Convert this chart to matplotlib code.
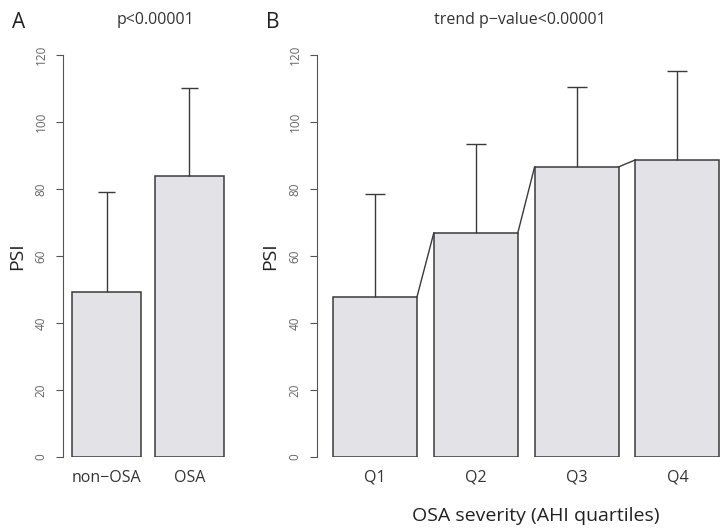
import matplotlib.pyplot as plt
import numpy as np

plt.rcParams['font.family'] = ['Open Sans', 'DejaVu Sans']

# panel A: non-OSA vs OSA
groups_a = ['non\u2212OSA', 'OSA']
mean_a = [49.3, 83.9]
sd_a = [29.8, 26.2]

# panel B: AHI quartiles
groups_b = ['Q1', 'Q2', 'Q3', 'Q4']
mean_b = [47.8, 66.9, 86.6, 88.7]
sd_b = [30.7, 26.5, 23.8, 26.5]

yticks = [0, 20, 40, 60, 80, 100, 120]

W, H = 724, 531
fig = plt.figure(figsize=(W / 100, H / 100), dpi=100)

bar_fc = '#e3e3e7'
edge = '#3a3a3a'
px0, px120 = 457, 55   # pixel rows of y=0 and y=120


def add_axes(left_px, right_px):
    return fig.add_axes([left_px / W, (H - px0) / H,
                         (right_px - left_px) / W, (px0 - px120) / H])


def style(ax):
    ax.set_ylim(0, 120)
    for s in ['top', 'right', 'bottom']:
        ax.spines[s].set_visible(False)
    ax.spines['left'].set_bounds(0, 120)
    ax.spines['left'].set_color('#555555')
    ax.set_yticks(yticks)
    ax.set_yticklabels([str(t) for t in yticks], rotation=90, va='center',
                       fontsize=8.5, color='#666666')
    ax.tick_params(axis='y', length=5, pad=6, color='#555555')
    ax.tick_params(axis='x', length=0, pad=9, labelsize=11.5, labelcolor='#333333')
    ax.set_ylabel('PSI', fontsize=14, color='#222222')
    ax.patch.set_alpha(0)


def barplot(ax, means, sds, labels):
    x = 0.7 + 1.2 * np.arange(len(means))
    ax.bar(x, means, width=1.0, color=bar_fc, edgecolor=edge, linewidth=1.1)
    tops = np.array(means) + np.array(sds)
    ax.vlines(x, means, tops, color=edge, linewidth=1.0)
    ax.hlines(tops, x - 0.12, x + 0.12, color=edge, linewidth=1.0)
    ax.set_xticks(x)
    ax.set_xticklabels(labels)
    return x


# panel A
axA = add_axes(63, 230)
xa = barplot(axA, mean_a, sd_a, groups_a)
axA.set_xlim(0.2 - 9 / 69, 2.4 + 6 / 69)
style(axA)
axA.yaxis.set_label_coords(-0.22, 0.5)

# panel B
axB = add_axes(317, 724)
xb = barplot(axB, mean_b, sd_b, groups_b)
axB.set_xlim(0.2 - 16 / 84, 0.2 - 16 / 84 + (724 - 317) / 84)
style(axB)
axB.yaxis.set_label_coords(-0.093, 0.5)
# trend segments joining neighbouring bar tops
for i in range(len(mean_b) - 1):
    axB.plot([xb[i] + 0.5, xb[i + 1] - 0.5], [mean_b[i], mean_b[i + 1]],
             color=edge, linewidth=1.0)
axB.set_xlabel('OSA severity (AHI quartiles)', fontsize=14, color='#222222')
axB.xaxis.set_label_coords(0.538, -0.125)

fig.text(12 / W, 1 - 22 / H, 'A', fontsize=15, color='#222222', va='center')
fig.text(266 / W, 1 - 22 / H, 'B', fontsize=15, color='#222222', va='center')
fig.text(156 / W, 1 - 20 / H, 'p<0.00001', fontsize=11.5, color='#333333',
         ha='center', va='center')
fig.text(520 / W, 1 - 20 / H, 'trend p\u2212value<0.00001', fontsize=11.5,
         color='#333333', ha='center', va='center')

fig.savefig('out.png', dpi=100)
